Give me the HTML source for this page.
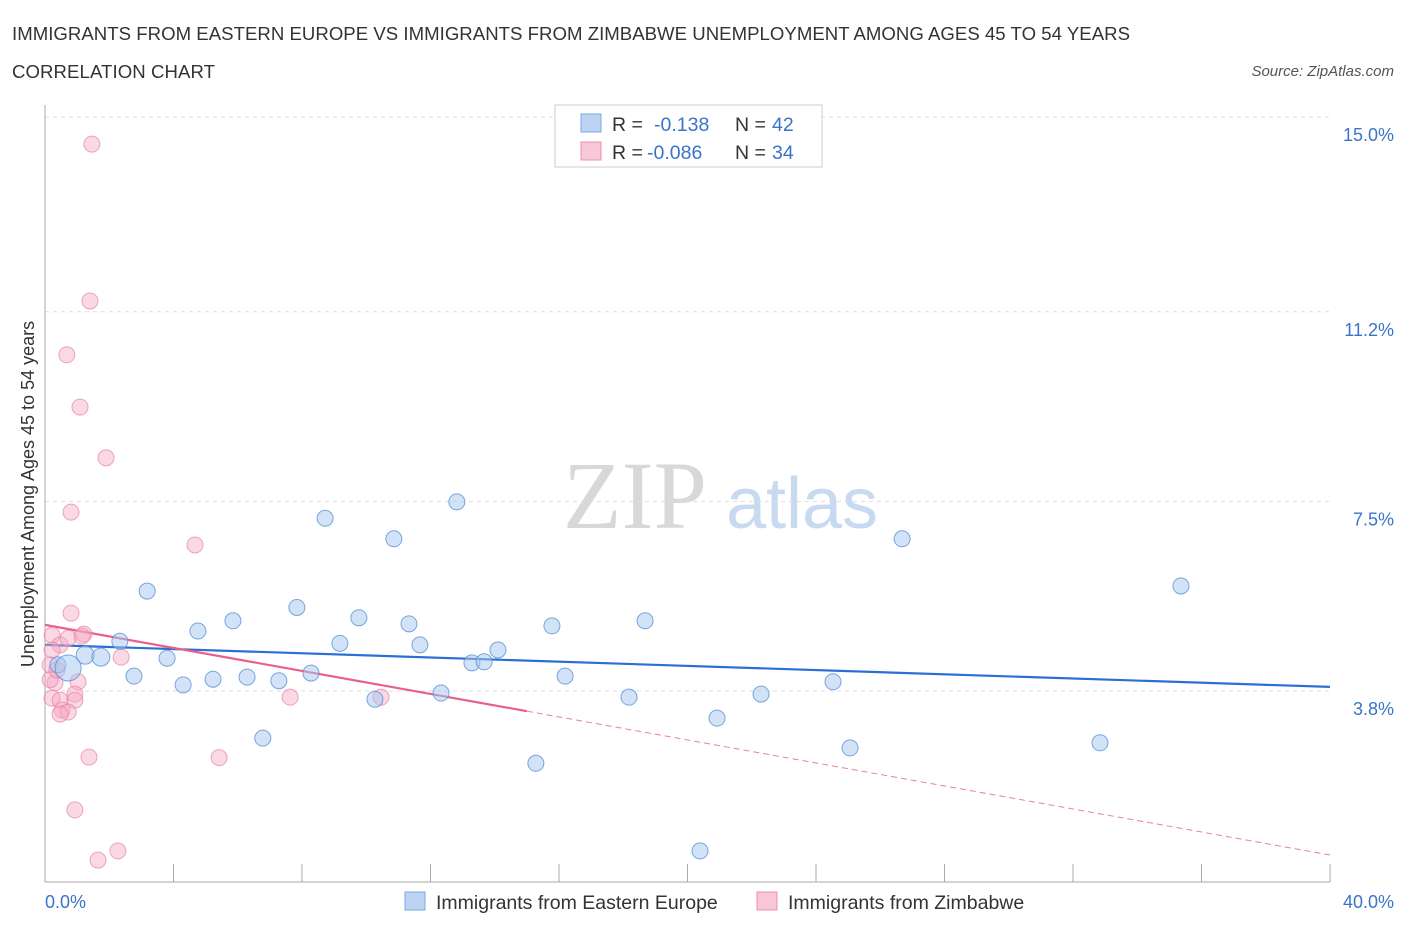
<!DOCTYPE html>
<html><head><meta charset="utf-8">
<style>
body{margin:0;background:#fff;font-family:"Liberation Sans",sans-serif;}
svg{display:block}
</style></head>
<body>
<svg id="chart" width="1406" height="930">
<text x="12" y="40" font-size="18.6" fill="#333" textLength="1118">IMMIGRANTS FROM EASTERN EUROPE VS IMMIGRANTS FROM ZIMBABWE UNEMPLOYMENT AMONG AGES 45 TO 54 YEARS</text>
<text x="12" y="78" font-size="18.6" fill="#333" textLength="203">CORRELATION CHART</text>
<text x="1394" y="76" font-size="15" fill="#555" font-style="italic" text-anchor="end">Source: ZipAtlas.com</text>
<g>
<text x="635" y="528" font-size="96" fill="#d8d8d8" font-family="Liberation Serif,serif" text-anchor="middle">ZIP</text>
<text x="802" y="528" font-size="72" fill="#c8daf0" text-anchor="middle">atlas</text>
</g>
<g id="grid"></g>
<g id="axes"></g>
<g id="lines"></g>
<g id="pts"></g>
<text transform="translate(34,494) rotate(-90)" font-size="18" fill="#333" text-anchor="middle">Unemployment Among Ages 45 to 54 years</text>
<text x="45" y="908" font-size="18" fill="#3a74c8">0.0%</text>
<text x="1394" y="908" font-size="18" fill="#3a74c8" text-anchor="end">40.0%</text>
<g>
<rect x="555" y="105" width="267" height="62" fill="#fff" stroke="#ccc"/>
<rect x="581" y="114" width="20" height="18" fill="#bcd4f4" stroke="#7aa8e0"/>
<text x="612" y="131" font-size="19.5" fill="#333">R = </text><text x="654" y="131" font-size="19.5" fill="#3a74c8">-0.138</text>
<text x="735" y="131" font-size="19.5" fill="#333">N = </text><text x="772" y="131" font-size="19.5" fill="#3a74c8">42</text>
<rect x="581" y="142" width="20" height="18" fill="#f8c8d8" stroke="#e890b0"/>
<text x="612" y="159" font-size="19.5" fill="#333">R = </text><text x="647" y="159" font-size="19.5" fill="#3a74c8">-0.086</text>
<text x="735" y="159" font-size="19.5" fill="#333">N = </text><text x="772" y="159" font-size="19.5" fill="#3a74c8">34</text>
</g>
<g>
<rect x="405" y="892" width="20" height="18" fill="#bcd4f4" stroke="#7aa8e0"/>
<text x="436" y="909" font-size="19.5" fill="#333">Immigrants from Eastern Europe</text>
<rect x="757" y="892" width="20" height="18" fill="#f8c8d8" stroke="#e890b0"/>
<text x="788" y="909" font-size="19.5" fill="#333">Immigrants from Zimbabwe</text>
</g>
</svg>
<script>
const yTicks=[3.8,7.5,11.2,15.0];
const yTickLabels=["3.8%","7.5%","11.2%","15.0%"];
const xTicks=[0,4,8,12,16,20,24,28,32,36,40];
const blueX=[0.40,0.72,1.25,1.74,2.33,2.77,3.18,3.80,4.30,4.76,5.23,5.85,6.29,6.78,7.28,7.84,8.28,8.72,9.18,9.77,10.27,10.86,11.33,11.67,12.33,12.82,13.29,13.67,14.10,15.28,15.78,16.19,18.18,18.68,20.39,20.92,22.29,24.53,25.06,26.68,32.84,35.36];
const blueY=[4.31,4.25,4.50,4.46,4.77,4.09,5.75,4.44,3.92,4.97,4.03,5.17,4.07,2.88,4.00,5.43,4.15,7.17,4.73,5.23,3.64,6.77,5.11,4.70,3.76,7.49,4.35,4.37,4.60,2.39,5.07,4.09,3.68,5.17,0.68,3.27,3.74,3.98,2.69,6.77,2.79,5.85];
const blueR=[8,13,9,9,8,8,8,8,8,8,8,8,8,8,8,8,8,8,8,8,8,8,8,8,8,8,8,8,8,8,8,8,8,8,8,8,8,8,8,8,8,8];
const pinkX=[1.46,1.40,0.68,1.09,1.90,0.81,4.67,0.81,0.22,0.47,0.72,1.21,2.37,0.22,0.16,0.31,1.03,0.22,0.47,0.93,0.93,0.53,0.72,0.47,7.63,10.46,1.37,5.42,0.93,1.65,2.27,0.16,0.37,1.15];
const pinkY=[14.47,11.41,10.36,9.34,8.35,7.29,6.65,5.32,4.89,4.70,4.83,4.91,4.46,4.60,4.31,3.96,3.98,3.66,3.62,3.74,3.62,3.43,3.39,3.35,3.68,3.68,2.51,2.50,1.48,0.50,0.68,4.02,4.21,4.87];
const blueTrend=[4.70,3.88];
const pinkTrend=[5.09,0.60];
const pinkSolidEnd=15.0;
const X=v=>45+v/40*1285;
const Y=v=>885.75-v*51.25;
const NS="http://www.w3.org/2000/svg";
function mk(p,t,a){const e=document.createElementNS(NS,t);for(const k in a)e.setAttribute(k,a[k]);document.getElementById(p).appendChild(e);return e;}
yTicks.forEach((t,i)=>{
 const l=mk('grid','line',{x1:45,x2:1330,y1:Y(t),y2:Y(t),stroke:'#ddd','stroke-dasharray':'4,4'});
 
 
 const tx=mk('grid','text',{x:1394,y:Y(t)+24,'font-size':18,fill:'#3a74c8','text-anchor':'end'});
 tx.textContent=yTickLabels[i];
 
 
});
mk('axes','line',{x1:45,x2:45,y1:105,y2:882,stroke:'#aaa'});
mk('axes','line',{x1:45,x2:1330,y1:882,y2:882,stroke:'#aaa'});
xTicks.forEach(t=>{
 const l=mk('axes','line',{x1:X(t),x2:X(t),y1:864,y2:882,stroke:'#aaa'});
 
 
});
const bl=mk('lines','line',{x1:X(0),x2:X(40),y1:Y(blueTrend[0]),y2:Y(blueTrend[1]),stroke:'#2a6fd6','stroke-width':2.2});


const pm=pinkTrend[0]+(pinkTrend[1]-pinkTrend[0])*pinkSolidEnd/40;
const pl=mk('lines','line',{x1:X(0),x2:X(pinkSolidEnd),y1:Y(pinkTrend[0]),y2:Y(pm),stroke:'#e8608a','stroke-width':2.2});


const pd=mk('lines','line',{x1:X(pinkSolidEnd),x2:X(40),y1:Y(pm),y2:Y(pinkTrend[1]),stroke:'#e8809e','stroke-width':1,'stroke-dasharray':'6,4'});


pinkX.forEach((x,i)=>{
 const c=mk('pts','circle',{cx:X(x),cy:Y(pinkY[i]),r:8,fill:'rgba(244,168,196,0.45)',stroke:'rgba(232,130,165,0.7)','stroke-width':1});
 
 
});
blueX.forEach((x,i)=>{
 const c=mk('pts','circle',{cx:X(x),cy:Y(blueY[i]),r:blueR[i],fill:'rgba(168,200,240,0.5)',stroke:'rgba(90,145,215,0.8)','stroke-width':1});
 
 
});
</script>
</body></html>
